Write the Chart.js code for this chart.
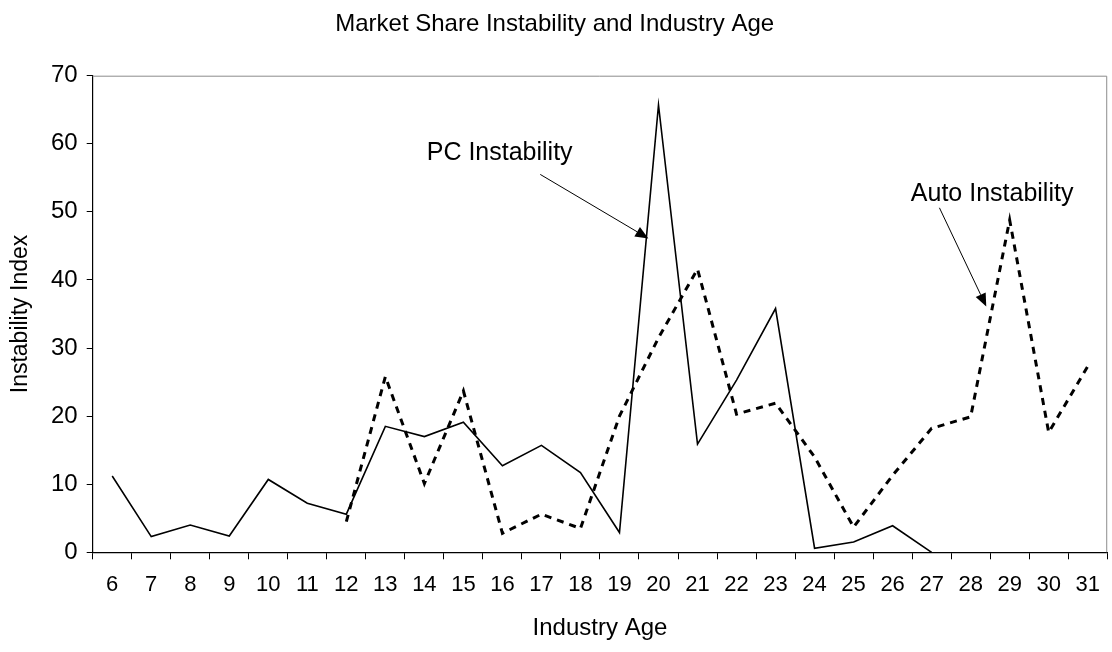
<!DOCTYPE html>
<html>
<head>
<meta charset="utf-8">
<script src="https://cdn.jsdelivr.net/npm/chart.js@4.4.1/dist/chart.umd.min.js"></script>
<style>
  html, body { margin: 0; padding: 0; background: #fff; }
  #wrap { width: 1112px; height: 652px; }
</style>
</head>
<body>
<div id="wrap"><canvas id="chart"></canvas></div>
<script>
const industryAge = ['6', '7', '8', '9', '10', '11', '12', '13', '14', '15', '16', '17', '18',
  '19', '20', '21', '22', '23', '24', '25', '26', '27', '28', '29', '30', '31'];
const pcInstability = [11.2, 2.3, 4.0, 2.4, 10.7, 7.2, 5.6, 18.5, 17.0, 19.1, 12.7, 15.7, 11.7,
  2.9, 65.7, 15.9, 25.3, 35.8, 0.6, 1.5, 3.9, 0, null, null, null, null];
const autoInstability = [null, null, null, null, null, null, 4.5, 25.8, 10.1, 23.7, 2.8, 5.6, 3.5,
  20.0, 31.5, 41.6, 20.3, 21.9, 14.0, 3.7, 11.3, 18.2, 19.9, 48.8, 17.6, 27.3];
const yTicks = [0, 10, 20, 30, 40, 50, 60, 70];

// callout labels, placed in data units (category index, index value)
const callouts = [
  { text: 'PC Instability', at: [9.93, 58.6], from: [10.97, 55.5], to: [13.74, 46.1] },
  { text: 'Auto Instability', at: [22.55, 52.6], from: [21.2, 50.6], to: [22.4, 36.1] }
];

const FONT = '"Liberation Sans", Arial, sans-serif';

const frameAndCallouts = {
  id: 'frameAndCallouts',
  beforeDatasetsDraw(chart) {
    const { ctx, chartArea: a } = chart;
    ctx.save();
    ctx.strokeStyle = '#8c8c8c';
    ctx.lineWidth = 1;
    ctx.beginPath();
    ctx.moveTo(a.left, a.top + 0.5);
    ctx.lineTo(a.right - 0.5, a.top + 0.5);
    ctx.lineTo(a.right - 0.5, a.bottom);
    ctx.stroke();
    ctx.restore();
  },
  afterDatasetsDraw(chart) {
    const { ctx } = chart;
    const x = chart.scales.x, y = chart.scales.y;
    ctx.save();
    ctx.fillStyle = '#000';
    ctx.strokeStyle = '#000';
    ctx.font = '25px ' + FONT;
    ctx.textAlign = 'center';
    ctx.textBaseline = 'middle';
    callouts.forEach(c => {
      ctx.fillText(c.text, x.getPixelForValue(c.at[0]), y.getPixelForValue(c.at[1]));
      const x0 = x.getPixelForValue(c.from[0]), y0 = y.getPixelForValue(c.from[1]);
      const x1 = x.getPixelForValue(c.to[0]), y1 = y.getPixelForValue(c.to[1]);
      const ang = Math.atan2(y1 - y0, x1 - x0);
      const len = 13, half = 5.5;
      const bx = x1 - len * Math.cos(ang), by = y1 - len * Math.sin(ang);
      ctx.lineWidth = 1;
      ctx.beginPath();
      ctx.moveTo(x0, y0);
      ctx.lineTo(bx, by);
      ctx.stroke();
      ctx.beginPath();
      ctx.moveTo(x1, y1);
      ctx.lineTo(bx + half * Math.sin(ang), by - half * Math.cos(ang));
      ctx.lineTo(bx - half * Math.sin(ang), by + half * Math.cos(ang));
      ctx.closePath();
      ctx.fill();
    });
    ctx.restore();
  }
};

new Chart(document.getElementById('chart'), {
  type: 'line',
  data: {
    labels: industryAge,
    datasets: [
      {
        label: 'PC Instability',
        data: pcInstability,
        borderColor: '#000',
        borderWidth: 1.6,
        pointRadius: 0,
        tension: 0,
        fill: false
      },
      {
        label: 'Auto Instability',
        data: autoInstability,
        borderColor: '#000',
        borderWidth: 3,
        borderDash: [7, 6],
        pointRadius: 0,
        tension: 0,
        fill: false
      }
    ]
  },
  options: {
    animation: false,
    responsive: true,
    maintainAspectRatio: false,
    layout: { padding: { left: 0, right: 2.7, top: 0, bottom: 0 } },
    plugins: {
      legend: { display: false },
      tooltip: { enabled: false },
      title: {
        display: true,
        text: 'Market Share Instability and Industry Age',
        color: '#000',
        font: { family: FONT, size: 24, weight: 'normal' },
        padding: { top: 9.5, bottom: 37.4 }
      }
    },
    scales: {
      x: {
        type: 'category',
        offset: true,
        afterFit(s) { s.height = 99.7; },
        grid: { offset: true, drawOnChartArea: false, tickLength: 7, color: '#000' },
        border: { color: '#000', width: 1.2 },
        ticks: { color: '#000', font: { family: FONT, size: 22 }, padding: 12, maxRotation: 0, autoSkip: false },
        title: {
          display: true,
          text: 'Industry Age',
          color: '#000',
          font: { family: FONT, size: 24 },
          padding: { top: 4, bottom: 9 }
        }
      },
      y: {
        min: yTicks[0],
        max: yTicks[yTicks.length - 1],
        afterFit(s) { s.width = 92.7; },
        afterBuildTicks(s) { s.ticks = yTicks.map(v => ({ value: v })); },
        grid: { drawOnChartArea: false, tickLength: 6, color: '#000' },
        border: { color: '#000', width: 1.2 },
        ticks: { color: '#000', font: { family: FONT, size: 24 }, padding: 9 },
        title: {
          display: true,
          text: 'Instability Index',
          color: '#000',
          font: { family: FONT, size: 23 },
          padding: { top: 7, bottom: 4 }
        }
      }
    }
  },
  plugins: [frameAndCallouts]
});
</script>
</body>
</html>
